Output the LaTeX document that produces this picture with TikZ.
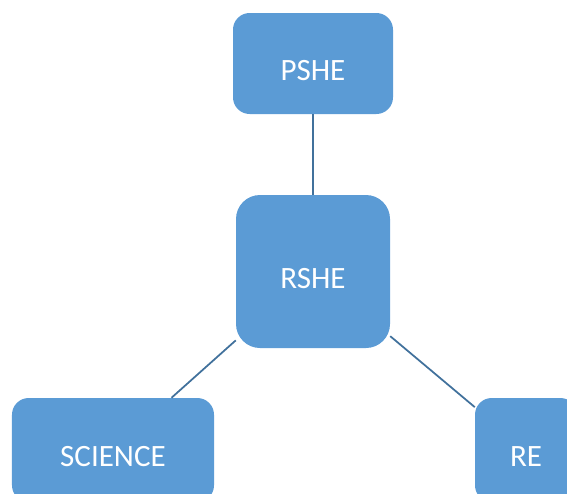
\documentclass[tikz,border=0pt]{standalone}
\usepackage{fontspec}
\setmainfont{Carlito}
\usetikzlibrary{positioning}
\definecolor{boxblue}{HTML}{5B9BD5}
\definecolor{lineblue}{HTML}{41719C}
\tikzset{
  topicbox/.style={fill=boxblue, draw=none, text=white, rounded corners=0.5cm,
    font=\fontsize{26.5}{31}\selectfont, text height=1cm, inner sep=0pt},
  link/.style={draw=lineblue, line width=1.5pt}
}
\begin{document}
\begin{tikzpicture}[x=0.03cm,y=-0.03cm]
  \useasboundingbox (0,0) rectangle (567,493);
  \clip (0,0) rectangle (567,493);
  % the four topic boxes
  \node[topicbox, minimum width=4.8cm, minimum height=3.03cm] (pshe) at (313,63.5) {PSHE};
  \node[topicbox, minimum width=4.62cm, minimum height=4.59cm, rounded corners=0.72cm] (rshe) at (313,271.5) {RSHE};
  \node[topicbox, minimum width=6.06cm, minimum height=3.12cm] (science) at (113,450) {SCIENCE};
  \node[topicbox, minimum width=3.06cm, minimum height=3.12cm] (re) at (526,450) {RE};
  % links to the centre
  \foreach \t in {pshe,science,re} {
    \draw[link] (rshe) -- (\t);
  }
\end{tikzpicture}
\end{document}
